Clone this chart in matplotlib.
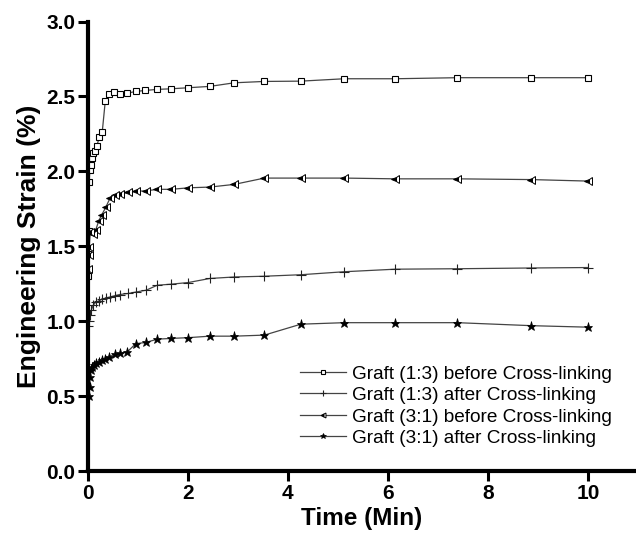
import numpy as np
import matplotlib.pyplot as plt

plt.rcParams['font.family'] = ['Liberation Sans', 'DejaVu Sans']

# Graft (1:3) before cross-linking
t_13_before = [0.0, 0.01, 0.02, 0.03, 0.04, 0.07, 0.09, 0.11, 0.15, 0.18, 0.23, 0.29, 0.35,
               0.43, 0.53, 0.65, 0.79, 0.96, 1.15, 1.39, 1.67, 2.01, 2.44, 2.93, 3.53,
               4.26, 5.13, 6.15, 7.39, 8.87, 10.0]
s_13_before = [1.30, 1.45, 1.60, 1.93, 2.01, 2.045, 2.087, 2.122, 2.135, 2.167, 2.229, 2.265, 2.469,
               2.518, 2.529, 2.518, 2.522, 2.533, 2.54, 2.547, 2.551, 2.558, 2.567, 2.591, 2.60,
               2.602, 2.618, 2.618, 2.625, 2.625, 2.625]

# Graft (1:3) after cross-linking
t_13_after = [0.0, 0.02, 0.04, 0.07, 0.11, 0.16, 0.22, 0.28, 0.36, 0.45, 0.54, 0.64, 0.81,
              0.97, 1.17, 1.39, 1.67, 2.01, 2.44, 2.93, 3.53, 4.26, 5.13, 6.15, 7.39, 8.87, 10.0]
s_13_after = [0.97, 1.00, 1.04, 1.073, 1.107, 1.127, 1.135, 1.145, 1.155, 1.162, 1.17, 1.178, 1.185,
              1.195, 1.207, 1.24, 1.247, 1.258, 1.285, 1.295, 1.30, 1.31, 1.33, 1.347, 1.35, 1.355, 1.358]

# Graft (3:1) before cross-linking
t_31_before = [0.0, 0.02, 0.03, 0.05, 0.11, 0.16, 0.22, 0.28, 0.36, 0.45, 0.54, 0.64, 0.81,
               0.97, 1.17, 1.39, 1.67, 2.01, 2.44, 2.93, 3.53, 4.26, 5.13, 6.15, 7.39, 8.87, 10.0]
s_31_before = [1.35, 1.44, 1.495, 1.595, 1.585, 1.61, 1.67, 1.71, 1.76, 1.825, 1.84, 1.85, 1.86,
               1.867, 1.87, 1.88, 1.88, 1.89, 1.895, 1.913, 1.955, 1.955, 1.955, 1.95, 1.95, 1.945, 1.935]

# Graft (3:1) after cross-linking
t_31_after = [0.03, 0.04, 0.05, 0.07, 0.09, 0.13, 0.17, 0.23, 0.29, 0.35, 0.43, 0.54, 0.65,
              0.79, 0.96, 1.16, 1.39, 1.67, 2.01, 2.44, 2.93, 3.53, 4.26, 5.13, 6.15, 7.39, 8.87, 10.0]
s_31_after = [0.50, 0.56, 0.63, 0.673, 0.695, 0.705, 0.72, 0.73, 0.74, 0.75, 0.762, 0.78, 0.785,
              0.795, 0.85, 0.858, 0.88, 0.885, 0.89, 0.90, 0.90, 0.907, 0.98, 0.99, 0.99, 0.99, 0.97, 0.96]

labels = ['Graft (1:3) before Cross-linking', 'Graft (1:3) after Cross-linking',
          'Graft (3:1) before Cross-linking', 'Graft (3:1) after Cross-linking']

fig = plt.figure(figsize=(6.36, 5.35), dpi=100)
ax = fig.add_axes([0.138, 0.1196, 0.862, 0.8402])

line_kw = dict(color='#444444', linewidth=0.9)
ax.plot(t_13_before, s_13_before, marker='s', markersize=4.5, markerfacecolor='white',
        markeredgecolor='black', markeredgewidth=0.8, label=labels[0], **line_kw)
ax.plot(t_13_after, s_13_after, marker='+', markersize=6.5, markeredgecolor='#222222',
        markeredgewidth=0.8, label=labels[1], **line_kw)
ax.plot(t_31_before, s_31_before, marker='<', markersize=5.5, fillstyle='left',
        markerfacecolor='black', markerfacecoloralt='white', markeredgecolor='black',
        markeredgewidth=0.7, label=labels[2], **line_kw)
ax.plot(t_31_after, s_31_after, marker='*', markersize=6.5, markerfacecolor='black',
        markeredgecolor='black', markeredgewidth=0.5, label=labels[3], **line_kw)

ax.set_xlim(0, 10.96)
ax.set_ylim(0, 3.0)
ax.set_xticks([0, 2, 4, 6, 8, 10])
ax.set_yticks([0.0, 0.5, 1.0, 1.5, 2.0, 2.5, 3.0])
ax.set_yticklabels(['0.0', '0.5', '1.0', '1.5', '2.0', '2.5', '3.0'])

for side in ['top', 'right']:
    ax.spines[side].set_visible(False)
for side in ['left', 'bottom']:
    ax.spines[side].set_linewidth(3)
ax.tick_params(direction='out', length=7, width=2.2, labelsize=15, pad=2)
for lab in ax.get_xticklabels() + ax.get_yticklabels():
    lab.set_fontweight('bold')

ax.set_xlabel('Time (Min)', fontsize=17.5, fontweight='bold', labelpad=3)
ax.set_ylabel('Engineering Strain (%)', fontsize=19, fontweight='bold', labelpad=4)

leg = ax.legend(loc='lower right', bbox_to_anchor=(0.987, 0.015), frameon=False, fontsize=13.7,
                handlelength=2.4, handletextpad=0.3, labelspacing=0.22, markerscale=0.65)

fig.savefig('out.png', dpi=100)
